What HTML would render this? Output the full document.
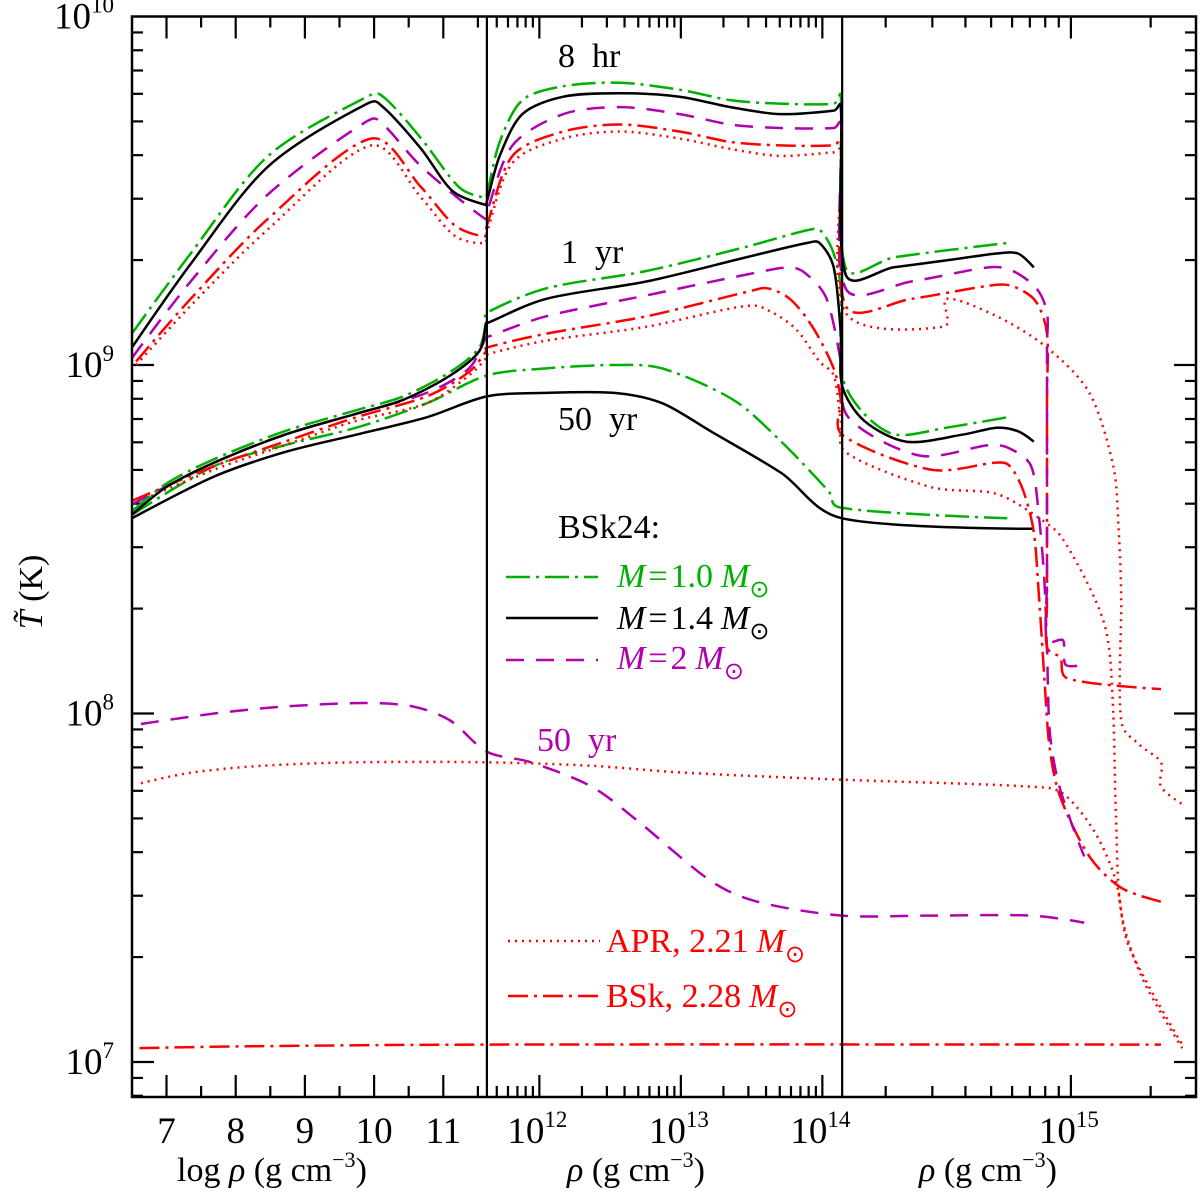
<!DOCTYPE html>
<html><head><meta charset="utf-8"><style>
html,body{margin:0;padding:0;background:#fff;}
svg{display:block;font-family:"Liberation Serif",serif;}
</style></head><body>
<svg id="chart" width="1200" height="1200" viewBox="0 0 1200 1200" xmlns="http://www.w3.org/2000/svg">
<rect x="0" y="0" width="1200" height="1200" fill="#fff"/>
<g id="ticks"></g>
<g id="series"></g>
<g id="frame"></g>
<g id="labels" font-size="34" fill="#000">
  <text x="558" y="67" xml:space="preserve">8  hr</text>
  <text x="561" y="263" xml:space="preserve">1  yr</text>
  <text x="558" y="430" xml:space="preserve">50  yr</text>
  <text x="537" y="751" xml:space="preserve" fill="#b000b0">50  yr</text>
  <text x="558" y="538">BSk24:</text>
  <g>
    <line x1="506" y1="577" x2="598" y2="577" stroke="#00b000" stroke-width="2.5" stroke-dasharray="24,6,3,6"/>
    <text x="617" y="587" fill="#00b000"><tspan font-style="italic">M</tspan><tspan dx="3">=</tspan><tspan dx="3">1.0</tspan><tspan font-style="italic" dx="8">M</tspan><tspan font-size="24" dy="10">⊙</tspan></text>
  </g>
  <g>
    <line x1="506" y1="618" x2="598" y2="618" stroke="#000" stroke-width="2.5"/>
    <text x="617" y="629"><tspan font-style="italic">M</tspan><tspan dx="3">=</tspan><tspan dx="3">1.4</tspan><tspan font-style="italic" dx="8">M</tspan><tspan font-size="24" dy="10">⊙</tspan></text>
  </g>
  <g>
    <line x1="506" y1="660" x2="598" y2="660" stroke="#b000b0" stroke-width="2.5" stroke-dasharray="18,12"/>
    <text x="617" y="669" fill="#b000b0"><tspan font-style="italic">M</tspan><tspan dx="3">=</tspan><tspan dx="3">2</tspan><tspan font-style="italic" dx="8">M</tspan><tspan font-size="24" dy="10">⊙</tspan></text>
  </g>
  <g>
    <line x1="508" y1="941" x2="600" y2="941" stroke="#ff0000" stroke-width="2.5" stroke-dasharray="2,5"/>
    <text x="606" y="952" fill="#ff0000">APR, 2.21<tspan font-style="italic" dx="8">M</tspan><tspan font-size="24" dy="10">⊙</tspan></text>
  </g>
  <g>
    <line x1="508" y1="996" x2="600" y2="996" stroke="#ff0000" stroke-width="2.5" stroke-dasharray="20,6,3,6"/>
    <text x="606" y="1007" fill="#ff0000">BSk, 2.28<tspan font-style="italic" dx="8">M</tspan><tspan font-size="24" dy="10">⊙</tspan></text>
  </g>
  <text x="177" y="1181">log <tspan font-style="italic">ρ</tspan> (g cm<tspan font-size="22" dy="-14">−3</tspan><tspan dy="14">)</tspan></text>
  <text x="567" y="1181"><tspan font-style="italic">ρ</tspan> (g cm<tspan font-size="22" dy="-14">−3</tspan><tspan dy="14">)</tspan></text>
  <text x="919" y="1181"><tspan font-style="italic">ρ</tspan> (g cm<tspan font-size="22" dy="-14">−3</tspan><tspan dy="14">)</tspan></text>
  <text transform="translate(42,592) rotate(-90)" text-anchor="middle"><tspan font-style="italic">T̃</tspan> (K)</text>
</g>
</svg>
<script>
// ---- data (log10 rho [g cm^-3], log10 T [K]) ----
const g8Rho=[6.50,7.35,8.47,9.90,10.13,10.68,11.23,11.60,11.63,11.72,11.88,12.17,12.57,12.99,13.35,13.70,14.08,14.13,14.15,14.34,14.76];
const g8T=[9.09,9.32,9.60,9.77,9.77,9.65,9.51,9.48,9.49,9.64,9.76,9.80,9.81,9.79,9.76,9.75,9.75,9.77,9.28,9.31,9.35];
const k8Rho=[6.50,7.35,8.47,9.90,10.13,10.68,11.13,11.60,11.63,11.72,11.88,12.17,12.57,12.99,13.35,13.70,14.08,14.13,14.15,14.33,14.53,14.72,14.80,14.86];
const k8T=[9.05,9.29,9.57,9.75,9.74,9.62,9.50,9.46,9.47,9.60,9.72,9.77,9.78,9.77,9.74,9.72,9.73,9.74,9.26,9.28,9.30,9.32,9.32,9.28];
const m8Rho=[6.50,7.35,8.47,9.90,10.13,10.68,11.60,11.63,11.81,12.17,12.57,12.99,13.35,13.70,14.08,14.13,14.15,14.40,14.69,14.78,14.87,14.91,14.91,14.91,14.91,14.91,14.97,14.98,15.05];
const m8T=[9.02,9.24,9.49,9.70,9.69,9.57,9.42,9.44,9.63,9.72,9.74,9.72,9.69,9.68,9.68,9.69,9.22,9.24,9.28,9.27,9.22,9.15,9.04,8.61,8.38,8.21,8.21,8.14,8.14];
const r8Rho=[6.56,7.35,8.47,9.96,10.68,11.17,11.60,11.63,11.81,12.17,12.57,12.99,13.35,13.70,14.08,14.13,14.15,14.40,14.72,14.80,14.87,14.91,14.91,14.91,14.91,14.96,14.99,15.34];
const r8T=[9.01,9.19,9.42,9.65,9.51,9.40,9.37,9.40,9.60,9.67,9.69,9.67,9.64,9.63,9.63,9.64,9.17,9.19,9.23,9.22,9.18,9.09,8.90,8.33,8.19,8.16,8.10,8.07];
const a8Rho=[6.56,7.35,8.47,9.96,10.68,11.17,11.60,11.63,11.81,12.17,12.57,12.99,13.35,13.70,14.08,14.13,14.15,14.52,14.53,14.72,14.91,15.07,15.16,15.18,15.19,15.19,15.26,15.34,15.34,15.42];
const a8T=[9.00,9.17,9.39,9.63,9.48,9.37,9.35,9.38,9.58,9.65,9.67,9.65,9.62,9.60,9.61,9.61,9.15,9.11,9.19,9.14,9.05,8.92,8.71,8.53,8.33,7.98,7.91,7.86,7.79,7.74];

const g1Rho=[6.50,7.00,7.69,8.71,9.74,10.42,11.10,11.52,11.62,11.63,12.05,12.76,13.47,13.93,14.00,14.08,14.13,14.14,14.22,14.34,14.53,14.76];
const g1T=[8.58,8.66,8.73,8.81,8.87,8.91,8.98,9.05,9.13,9.15,9.22,9.27,9.34,9.39,9.38,9.32,9.22,8.97,8.86,8.80,8.82,8.85];
const k1Rho=[6.50,7.00,7.69,8.71,9.74,10.42,11.10,11.52,11.62,11.63,12.05,12.76,13.47,13.89,13.98,14.08,14.13,14.14,14.22,14.38,14.59,14.72,14.80,14.86];
const k1T=[8.57,8.65,8.72,8.80,8.86,8.90,8.97,9.04,9.12,9.12,9.19,9.24,9.31,9.35,9.35,9.28,9.09,8.94,8.84,8.78,8.80,8.82,8.81,8.78];
const m1Rho=[6.50,7.69,8.71,9.74,10.76,11.37,11.62,11.63,12.05,12.76,13.47,13.77,13.89,14.03,14.13,14.16,14.43,14.69,14.77,14.85,14.88,14.90,14.91,14.92,14.95,15.00,15.05];
const m1T=[8.60,8.72,8.80,8.86,8.92,8.99,9.08,9.08,9.14,9.20,9.26,9.28,9.26,9.19,9.01,8.85,8.74,8.77,8.76,8.71,8.56,8.38,8.18,7.95,7.81,7.69,7.59];
const r1Rho=[6.50,7.69,8.71,9.74,10.76,11.37,11.62,11.63,12.05,12.76,13.47,13.61,13.77,13.93,14.08,14.13,14.14,14.47,14.72,14.77,14.82,14.86,14.88,14.90,14.92,14.96,15.07,15.19,15.34];
const r1T=[8.61,8.71,8.78,8.85,8.91,8.98,9.04,9.05,9.09,9.14,9.21,9.22,9.19,9.11,8.99,8.90,8.80,8.70,8.72,8.71,8.64,8.52,8.33,8.10,7.90,7.76,7.59,7.50,7.46];
const a1Rho=[6.50,7.69,8.71,9.74,10.76,11.37,11.62,11.63,12.05,12.76,13.47,13.65,13.82,13.98,14.08,14.13,14.15,14.47,14.72,14.90,14.97,15.09,15.14,15.16,15.17,15.19,15.27,15.42];
const a1T=[8.60,8.70,8.77,8.84,8.89,8.97,9.02,9.03,9.07,9.11,9.17,9.15,9.10,9.01,8.97,8.84,8.75,8.65,8.63,8.55,8.50,8.33,8.21,8.00,7.71,7.43,7.24,7.04];

const g50Rho=[6.50,7.69,8.71,9.74,10.76,11.63,12.04,12.53,12.87,13.37,13.71,14.04,14.14,14.76];
const g50T=[8.57,8.71,8.77,8.82,8.89,8.97,8.99,9.00,8.99,8.90,8.78,8.64,8.59,8.56];
const k50Rho=[6.50,7.69,8.71,9.74,10.76,11.63,12.04,12.53,12.87,13.21,13.71,14.14,14.86];
const k50T=[8.56,8.68,8.75,8.80,8.85,8.91,8.92,8.92,8.89,8.81,8.69,8.56,8.53];
const m50Rho=[6.63,7.69,8.71,9.87,10.56,11.10,11.63,11.94,12.37,12.70,13.21,13.54,14.14,14.47,14.85,15.05];
const m50T=[7.97,8.00,8.02,8.03,8.02,7.98,7.89,7.86,7.79,7.69,7.52,7.46,7.42,7.42,7.42,7.40];
const a50Rho=[6.63,7.35,8.38,9.74,11.63,12.37,13.03,14.14,14.85,14.97,15.09,15.17,15.22,15.42];
const a50T=[7.80,7.83,7.85,7.86,7.86,7.85,7.83,7.81,7.79,7.77,7.66,7.52,7.33,7.05];
const r50Rho=[6.61,8.21,11.63,15.34];
const r50T=[7.04,7.045,7.05,7.05];

const yTickValues=[7,8,9,10];
const panel1Ticks=[7,8,9,10,11];
const panel2Majors=[12,13,14];
const panel3Majors=[15];
const panel2TickLabels=["12","13","14"];
const panel3TickLabels=["15"];

// ---- axes ----
const X0=132,X1=1196,Y0=16.5,Y1=1097;
function xPix(l){ if(l<=11.63) return 166.5+(l-7)*69.2; if(l<=14.14) return 487+(l-11.63)*141.5; return 843+(l-14.14)*265; }
function yPix(t){ return 16.5+(10-t)*348.5; }

const NS="http://www.w3.org/2000/svg";
function mk(tag,attrs,parent){const e=document.createElementNS(NS,tag);for(const k in attrs)e.setAttribute(k,attrs[k]);parent.appendChild(e);return e;}

const ticks=document.getElementById('ticks');
const frame=document.getElementById('frame');
const labels=document.getElementById('labels');
const series=document.getElementById('series');

function tickLine(x1,y1,x2,y2,name){
  const l=mk('line',{x1:x1,y1:y1,x2:x2,y2:y2,stroke:'#000','stroke-width':2.2},ticks);
  
  
}
for(let d=6;d<10;d++){
  for(let m=1;m<10;m++){
    const v=d+Math.log10(m);
    if(v<6.9||v>10.001)continue;
    const y=yPix(v); const len=(m===1)?22:11;
    tickLine(X0,y,X0+len,y,'y-tick');
    tickLine(X1-len,y,X1,y,'y-tick');
  }
}
yTickValues.forEach(function(v){
  const t=mk('text',{x:114,y:yPix(v)+12,'text-anchor':'end','font-size':37},labels);
  
  
  t.innerHTML='10<tspan font-size="23" dy="-16">'+v+'</tspan>';
});
for(let v=6.5;v<11.63;v+=0.5){
  if(v<6.55)continue;
  const isMaj=Math.abs(v-Math.round(v))<1e-6; const x=xPix(v); const len=isMaj?22:11;
  tickLine(x,Y1,x,Y1-len,'x-tick'); tickLine(x,Y0,x,Y0+len,'x-tick');
}
panel1Ticks.forEach(function(v){
  const t=mk('text',{x:xPix(v),y:1143,'text-anchor':'middle','font-size':37},labels);
  
  
  t.textContent=String(v);
});
for(let d=11;d<=15;d++){
  for(let m=1;m<10;m++){
    const v=d+Math.log10(m);
    if(v<=11.64||v>=15.46)continue;
    if(v>14.13&&v<14.15)continue;
    const x=xPix(v); const len=(m===1)?22:11;
    tickLine(x,Y1,x,Y1-len,'x-tick'); tickLine(x,Y0,x,Y0+len,'x-tick');
  }
}
function decadeLabel(v,lbl){
  const t=mk('text',{x:xPix(v)-2,y:1143,'text-anchor':'middle','font-size':37},labels);
  
  
  t.innerHTML='10<tspan font-size="23" dy="-16">'+lbl+'</tspan>';
}
panel2Majors.forEach(function(v,i){decadeLabel(v,panel2TickLabels[i]);});
panel3Majors.forEach(function(v,i){decadeLabel(v,panel3TickLabels[i]);});

const fr=mk('rect',{x:X0,y:Y0,width:X1-X0,height:Y1-Y0,fill:'none',stroke:'#000','stroke-width':2.5},frame);


[11.63,14.14].forEach(function(v){
  const l=mk('line',{x1:xPix(v),y1:Y0,x2:xPix(v),y2:Y1,stroke:'#000','stroke-width':2.2},frame);
  
  
});

const GREEN='#00b000',MAG='#b000b0',RED='#ff0000',BLK='#000';
const DASHDOT_G='24,6,3,6',DASHDOT_R='20,6,3,6',DASH='18,12',DOT='2,5';
// centripetal Catmull-Rom smoothing
function smoothPath(P){
  if(P.length<3){return 'M'+P.map(function(p){return p[0].toFixed(1)+','+p[1].toFixed(1);}).join('L');}
  let d='M'+P[0][0].toFixed(1)+','+P[0][1].toFixed(1);
  const dist=function(a,b){return Math.max(1e-4,Math.pow(Math.hypot(a[0]-b[0],a[1]-b[1]),0.5));};
  for(let i=0;i<P.length-1;i++){
    const p0=P[Math.max(0,i-1)],p1=P[i],p2=P[i+1],p3=P[Math.min(P.length-1,i+2)];
    const d1=dist(p0,p1),d2=dist(p1,p2),d3=dist(p2,p3);
    let c1=[p1[0],p1[1]],c2=[p2[0],p2[1]];
    if(i>0){
      const a=d1*d1,b=d2*d2,ab=d1*d2;
      c1=[(b*p0[0]*-1+(2*b+3*ab+a)*p1[0]+a*p2[0]*0)/(3*ab+3*a+0.0001),0];
      // standard formulation
      const t1=[(p2[0]-p0[0])/(d1+d2)*d2/3, (p2[1]-p0[1])/(d1+d2)*d2/3];
      c1=[p1[0]+t1[0]*0.9,p1[1]+t1[1]*0.9];
    }
    if(i<P.length-2){
      const t2=[(p3[0]-p1[0])/(d2+d3)*d2/3,(p3[1]-p1[1])/(d2+d3)*d2/3];
      c2=[p2[0]-t2[0]*0.9,p2[1]-t2[1]*0.9];
    }
    d+='C'+c1[0].toFixed(1)+','+c1[1].toFixed(1)+' '+c2[0].toFixed(1)+','+c2[1].toFixed(1)+' '+p2[0].toFixed(1)+','+p2[1].toFixed(1);
  }
  return d;
}
function drawSeries(xs,ys,color,dash,name){
  const P=[];
  for(let i=0;i<xs.length;i++){P.push([xPix(xs[i]),yPix(ys[i])]);}
  const p=mk('path',{d:smoothPath(P),fill:'none',stroke:color,'stroke-width':2.5,'stroke-linejoin':'round'},series);
  if(dash)p.setAttribute('stroke-dasharray',dash);
  
  
}
drawSeries(r50Rho,r50T,RED,DASHDOT_R,'bsk228-50yr-line');
drawSeries(a50Rho,a50T,RED,DOT,'apr221-50yr-line');
drawSeries(m50Rho,m50T,MAG,DASH,'m2-50yr-line');
drawSeries(g50Rho,g50T,GREEN,DASHDOT_G,'m10-50yr-line');
drawSeries(k50Rho,k50T,BLK,null,'m14-50yr-line');
drawSeries(a1Rho,a1T,RED,DOT,'apr221-1yr-line');
drawSeries(r1Rho,r1T,RED,DASHDOT_R,'bsk228-1yr-line');
drawSeries(m1Rho,m1T,MAG,DASH,'m2-1yr-line');
drawSeries(g1Rho,g1T,GREEN,DASHDOT_G,'m10-1yr-line');
drawSeries(k1Rho,k1T,BLK,null,'m14-1yr-line');
drawSeries(a8Rho,a8T,RED,DOT,'apr221-8hr-line');
drawSeries(r8Rho,r8T,RED,DASHDOT_R,'bsk228-8hr-line');
drawSeries(m8Rho,m8T,MAG,DASH,'m2-8hr-line');
drawSeries(g8Rho,g8T,GREEN,DASHDOT_G,'m10-8hr-line');
drawSeries(k8Rho,k8T,BLK,null,'m14-8hr-line');
</script>
</body></html>
